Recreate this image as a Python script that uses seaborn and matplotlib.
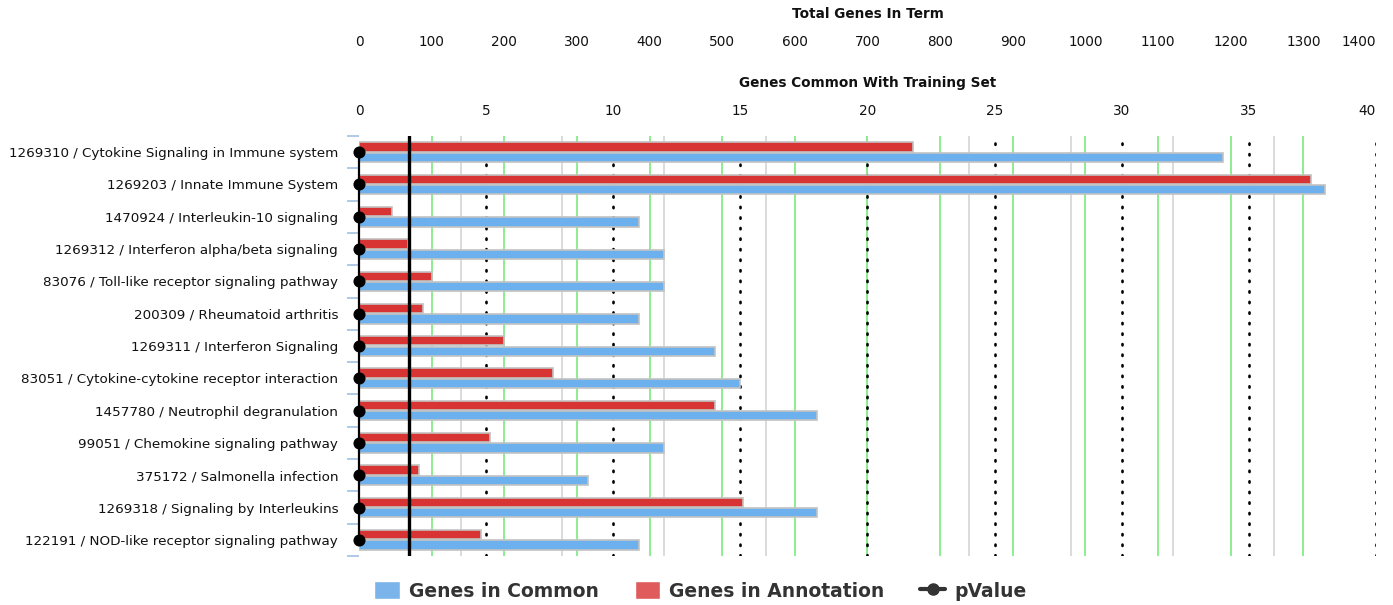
import numpy as np
import pandas as pd
import matplotlib
matplotlib.use("Agg")
import matplotlib.pyplot as plt
import matplotlib.transforms as mtransforms
from matplotlib.patches import Patch
from matplotlib.lines import Line2D
from matplotlib.ticker import FixedLocator
import seaborn as sns

# pathway terms, top to bottom
terms = [
    "1269310 / Cytokine Signaling in Immune system",
    "1269203 / Innate Immune System",
    "1470924 / Interleukin-10 signaling",
    "1269312 / Interferon alpha/beta signaling",
    "83076 / Toll-like receptor signaling pathway",
    "200309 / Rheumatoid arthritis",
    "1269311 / Interferon Signaling",
    "83051 / Cytokine-cytokine receptor interaction",
    "1457780 / Neutrophil degranulation",
    "99051 / Chemokine signaling pathway",
    "375172 / Salmonella infection",
    "1269318 / Signaling by Interleukins",
    "122191 / NOD-like receptor signaling pathway",
]
genes_in_common = [34, 38, 11, 12, 12, 11, 14, 15, 18, 12, 9, 18, 11]
genes_in_annotation = [762, 1310, 46, 67, 101, 88, 200, 267, 490, 180, 83, 528, 168]
p_values = [0.0] * len(terms)
cutoff = 1.97  # thick black reference line, in genes-in-common units

common_ticks = np.arange(0, 41, 5)
total_ticks = np.arange(0, 1401, 100)
gray_lines = np.arange(4, 37, 4)

hue_order = ["Genes in Annotation", "Genes in Common"]
bar_colors = {"Genes in Annotation": "#d83434", "Genes in Common": "#6cb1ee"}

df = pd.DataFrame({
    "term": terms * 2,
    "series": ["Genes in Common"] * len(terms) + ["Genes in Annotation"] * len(terms),
    "value": genes_in_common + genes_in_annotation,
})

sns.set_theme(style="white")
plt.rcParams["font.family"] = ["DejaVu Sans"]

fig = plt.figure(figsize=(13.93, 6.05), dpi=100)
ax = fig.add_axes([0.2577, 0.081, 0.7301, 0.6942])
ax_tot = ax.twiny()
ax.set_xlim(0, 40)
ax_tot.set_xlim(0, 1400)

# grid lines all live on the lower axes so the bars cover them
tot_tr = mtransforms.blended_transform_factory(ax_tot.transData, ax.transAxes)
for v in total_ticks[1:-1]:
    ax.plot([v, v], [0, 1], transform=tot_tr, color="#86ec86", lw=1.3, zorder=0.5)
for v in gray_lines:
    ax.axvline(v, color="#d4d4d4", lw=1.2, zorder=0.4)
for v in common_ticks[1:]:
    ax.axvline(v, color="black", lw=1.9, ls=(0, (0.5, 3.5)), zorder=0.6,
               dash_capstyle="round")

bar_kw = dict(x="value", y="term", hue="series", hue_order=hue_order,
              palette=bar_colors, saturation=1, orient="h", width=0.64, gap=0.1,
              dodge=True, edgecolor="#c2c2c2", linewidth=1.2, legend=False, zorder=2)
sns.barplot(data=df[df.series == "Genes in Common"], ax=ax, **bar_kw)
sns.barplot(data=df[df.series == "Genes in Annotation"], ax=ax_tot, **bar_kw)

sns.pointplot(x=p_values, y=terms, orient="h", color="black", errorbar=None,
              markersize=7.5, linewidth=1.6, ax=ax_tot, zorder=4)
for ln in ax_tot.lines:
    ln.set_clip_on(False)

com_tr = mtransforms.blended_transform_factory(ax.transData, ax_tot.transAxes)
ax_tot.plot([cutoff, cutoff], [0, 1], transform=com_tr, color="black", lw=2.4, zorder=3)

ax.set_xlim(0, 40)
ax_tot.set_xlim(0, 1400)
ax.set_ylim(len(terms) - 0.5, -0.5)

# top axes: genes common (inner) and total genes (outer)
ax.xaxis.tick_top()
ax.xaxis.set_label_position("top")
ax.set_xticks(common_ticks)
ax.set_xlabel("Genes Common With Training Set", fontsize=9.8, fontweight="semibold",
              labelpad=12, color="#111111")
ax.tick_params(axis="x", length=0, pad=13, labelsize=9.8, labelcolor="#111111")
ax_tot.set_xticks(total_ticks)
ax_tot.spines["top"].set_position(("outward", 50))
ax_tot.set_xlabel("Total Genes In Term", fontsize=9.8, fontweight="semibold",
                  labelpad=12, color="#111111")
ax_tot.tick_params(axis="x", length=0, pad=13, labelsize=9.8, labelcolor="#111111")
ax.get_xticklabels()[-1].set_ha("right")
ax_tot.get_xticklabels()[-1].set_ha("right")

for a in (ax, ax_tot):
    for sp in a.spines.values():
        sp.set_visible(False)
    a.set_ylabel("")

ax.tick_params(axis="y", which="major", length=0, pad=15, labelsize=9.7,
               labelcolor="#111111")
ax.yaxis.set_minor_locator(FixedLocator(np.arange(len(terms) + 1) - 0.5))
ax.tick_params(axis="y", which="minor", left=True, length=9, width=1.3,
               color="#a9c6e4", direction="out", pad=2)

handles = [
    Patch(facecolor="#7ab4ea", label="Genes in Common"),
    Patch(facecolor="#e05c5c", label="Genes in Annotation"),
    Line2D([], [], color="#333333", marker="o", lw=3, markersize=8, label="pValue"),
]
fig.legend(handles=handles, loc="center", bbox_to_anchor=(0.503, 0.023), ncol=3,
           frameon=False, prop={"weight": "bold", "size": 13.5}, labelcolor="#333333",
           handlelength=1.35, handleheight=1.1, handletextpad=0.5, columnspacing=1.9)

fig.savefig("out.png", dpi=100)
